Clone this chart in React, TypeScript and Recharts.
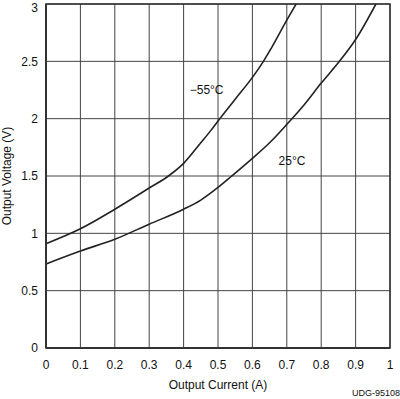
import { LineChart, Line, XAxis, YAxis, CartesianGrid, ReferenceDot, ReferenceArea } from 'recharts';

// Output current (A) vs output voltage (V)
const COLD_CURRENT = [0, 0.1, 0.2, 0.3, 0.356, 0.4, 0.45, 0.48, 0.5, 0.55, 0.6, 0.632, 0.65, 0.7, 0.727];
const COLD_VOLTAGE = [0.91, 1.04, 1.21, 1.395, 1.5, 1.61, 1.79, 1.9, 1.98, 2.17, 2.36, 2.5, 2.59, 2.86, 3.0];

const ROOM_CURRENT = [0, 0.1, 0.2, 0.3, 0.4, 0.45, 0.5, 0.54, 0.6, 0.65, 0.7, 0.75, 0.8, 0.853, 0.9, 0.959];
const ROOM_VOLTAGE = [0.733, 0.846, 0.948, 1.08, 1.21, 1.29, 1.4, 1.5, 1.654, 1.79, 1.95, 2.12, 2.31, 2.5, 2.69, 3.0];

const X_TICKS = [0, 0.1, 0.2, 0.3, 0.4, 0.5, 0.6, 0.7, 0.8, 0.9, 1];
const Y_TICKS = [0, 0.5, 1, 1.5, 2, 2.5, 3];

const LABELS = [
  { text: '\u221255\u00b0C', current: 0.467, voltage: 2.25 },
  { text: '25\u00b0C', current: 0.715, voltage: 1.63 },
];

const toPoints = (xs: number[], ys: number[]) => xs.map((x, i) => ({ current: x, voltage: ys[i] }));

const FONT = '"Liberation Sans", Arial, sans-serif';
const tickStyle = { fontSize: 12, fill: '#111', fontFamily: FONT };

export default function App() {
  const cold = toPoints(COLD_CURRENT, COLD_VOLTAGE);
  const room = toPoints(ROOM_CURRENT, ROOM_VOLTAGE);

  return (
    <div style={{ position: 'relative', width: 400, height: 399, background: '#fff', fontFamily: FONT }}>
      <style>{'body{margin:0}'}</style>
      <LineChart width={400} height={399} margin={{ top: 4, right: 10, bottom: 0, left: 0 }}>
        <CartesianGrid stroke="#444" strokeWidth={1} />
        <XAxis
          type="number"
          dataKey="current"
          domain={[0, 1]}
          ticks={X_TICKS}
          height={51}
          tickSize={0}
          tickMargin={12}
          tickLine={false}
          axisLine={{ stroke: '#333', strokeWidth: 2 }}
          tick={tickStyle}
          tickFormatter={(v: number) => String(v)}
          label={{ value: 'Output Current (A)', position: 'insideBottom', offset: 10, style: { fontSize: 12, fill: '#111', fontFamily: FONT } }}
        />
        <YAxis
          type="number"
          dataKey="voltage"
          domain={[0, 3]}
          ticks={Y_TICKS}
          allowDataOverflow
          width={46}
          tickSize={0}
          tickMargin={8}
          tickLine={false}
          axisLine={{ stroke: '#333', strokeWidth: 2 }}
          tick={tickStyle}
          label={{
            value: 'Output Voltage (V)',
            angle: -90,
            position: 'insideLeft',
            offset: 7,
            style: { fontSize: 12, fill: '#111', fontFamily: FONT, textAnchor: 'middle' },
          }}
        />
        <ReferenceArea x1={0} x2={1} y1={0} y2={3} fill="none" stroke="#333" strokeWidth={1.5} ifOverflow="visible" />
        <Line data={cold} dataKey="voltage" type="monotone" stroke="#222" strokeWidth={1.6} dot={false} isAnimationActive={false} />
        <Line data={room} dataKey="voltage" type="monotone" stroke="#222" strokeWidth={1.6} dot={false} isAnimationActive={false} />
        {LABELS.map((l) => (
          <ReferenceDot
            key={l.text}
            x={l.current}
            y={l.voltage}
            r={0}
            fill="none"
            stroke="none"
            label={{ value: l.text, position: 'center', style: { fontSize: 12, fill: '#111', fontFamily: FONT } }}
          />
        ))}
      </LineChart>
      <div style={{ position: 'absolute', right: 0, bottom: 0, fontSize: 9, color: '#111', lineHeight: '11px' }}>UDG-95108</div>
    </div>
  );
}
